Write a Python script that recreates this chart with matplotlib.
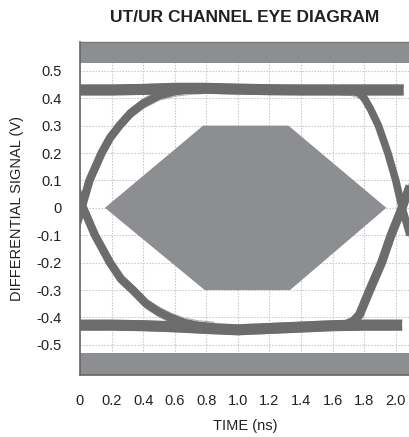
import matplotlib
matplotlib.use("Agg")
import matplotlib.pyplot as plt
from matplotlib.patches import Polygon

# ---- data ----
title = "UT/UR CHANNEL EYE DIAGRAM"
x_label = "TIME (ns)"
y_label = "DIFFERENTIAL SIGNAL (V)"

x_ticks = [0, 0.2, 0.4, 0.6, 0.8, 1.0, 1.2, 1.4, 1.6, 1.8, 2.0]
x_tick_labels = ["0", "0.2", "0.4", "0.6", "0.8", "1.0", "1.2", "1.4", "1.6", "1.8", "2.0"]
y_ticks = [0.5, 0.4, 0.3, 0.2, 0.1, 0, -0.1, -0.2, -0.3, -0.4, -0.5]
y_tick_labels = ["0.5", "0.4", "0.3", "0.2", "0.1", "0", "-0.1", "-0.2", "-0.3", "-0.4", "-0.5"]

# eye mask (hexagon) vertices
mask_t = [0.158, 0.78, 1.32, 1.94, 1.33, 0.79]
mask_v = [0.0, 0.3, 0.3, 0.0, -0.3, -0.3]

# keep-out bands
band_top = (0.53, 0.61)
band_bottom = (-0.61, -0.53)

# traces
top_rail_t = [-0.05, 0.2, 0.4, 0.6, 0.8, 1.0, 1.2, 1.4, 1.6, 1.8, 2.05]
top_rail_v = [0.43, 0.43, 0.432, 0.436, 0.436, 0.433, 0.431, 0.43, 0.43, 0.43, 0.43]
bot_rail_t = [-0.05, 0.2, 0.4, 0.6, 0.8, 1.0, 1.2, 1.4, 1.6, 1.8, 2.04]
bot_rail_v = [-0.428, -0.428, -0.43, -0.434, -0.44, -0.445, -0.44, -0.435, -0.43, -0.428, -0.428]

left_rise_t = [-0.08, -0.03, 0.01, 0.06, 0.137, 0.19, 0.25, 0.32, 0.40, 0.50, 0.60, 0.70, 0.80]
left_rise_v = [-0.20, -0.08, 0.0, 0.10, 0.20, 0.255, 0.30, 0.345, 0.38, 0.41, 0.425, 0.432, 0.435]
left_fall_t = [-0.08, -0.03, 0.02, 0.095, 0.19, 0.26, 0.335, 0.42, 0.50, 0.57, 0.66, 0.75, 0.85]
left_fall_v = [0.20, 0.08, 0.0, -0.10, -0.20, -0.26, -0.30, -0.35, -0.38, -0.40, -0.42, -0.43, -0.435]

right_fall_t = [1.65, 1.72, 1.77, 1.80, 1.84, 1.89, 1.95, 2.00, 2.04, 2.09]
right_fall_v = [0.43, 0.428, 0.418, 0.40, 0.36, 0.30, 0.20, 0.10, 0.0, -0.10]
right_rise_t = [1.62, 1.68, 1.73, 1.77, 1.835, 1.91, 1.97, 2.04, 2.09]
right_rise_v = [-0.43, -0.428, -0.415, -0.39, -0.30, -0.20, -0.10, 0.0, 0.08]

# small vertical spreads of individual traces around each bundle
trace_offsets = [-0.018, -0.01, 0.01, 0.018]

# ---- figure ----
plt.rcParams['font.family'] = ['Liberation Sans Narrow', 'Liberation Sans', 'DejaVu Sans']
fig = plt.figure(figsize=(4.10, 4.37), dpi=100)
ax = fig.add_axes([80/410, 1-374.5/437, 1-80/410, (374.5-42)/437])

ax.set_xlim(0, 2.09)
ax.set_ylim(-0.608, 0.605)

mask_col = '#8d8e91'
trace_col = '#6c6c6c'
fuzz_col = '#8a8a8a'

ax.axhspan(*band_top, color=mask_col, lw=0, zorder=1)
ax.axhspan(*band_bottom, color=mask_col, lw=0, zorder=1)
ax.add_patch(Polygon(list(zip(mask_t, mask_v)), closed=True, facecolor=mask_col,
                     edgecolor='none', zorder=2))

bundles = [(top_rail_t, top_rail_v, 8), (bot_rail_t, bot_rail_v, 8),
           (left_rise_t, left_rise_v, 6), (left_fall_t, left_fall_v, 6),
           (right_fall_t, right_fall_v, 5.5), (right_rise_t, right_rise_v, 6.5)]
for t, v, lw in bundles:
    ax.plot(t, v, color=trace_col, lw=lw, solid_capstyle='butt',
            solid_joinstyle='round', zorder=3)
    for off in trace_offsets:
        ax.plot(t, [y + off for y in v], color=fuzz_col, lw=0.7,
                solid_joinstyle='round', zorder=2.9, alpha=0.7)

ax.set_xticks(x_ticks)
ax.set_xticklabels(x_tick_labels, fontsize=10.5)
ax.set_yticks(y_ticks)
ax.set_yticklabels(y_tick_labels, fontsize=10.5)
ax.tick_params(length=0, pad=13, colors='#222222')
ax.tick_params(axis='x', pad=14)

ax.grid(True, color='#c0c0c0', ls=(0, (1.2, 1.5)), lw=0.8, zorder=0)
ax.set_axisbelow(True)

ax.spines['right'].set_visible(False)
ax.spines['top'].set_color('#7a7a7a')
ax.spines['top'].set_linewidth(1.0)
for s in ['left', 'bottom']:
    ax.spines[s].set_color('#666666')
    ax.spines[s].set_linewidth(1.2)

ax.set_xlabel(x_label, fontsize=10.5, color='#222222', labelpad=8)
ax.set_ylabel(y_label, fontsize=10.5, color='#222222', labelpad=9)
fig.text(245/410, 1-18/437, title, ha='center', va='center', fontsize=12.5,
         fontweight='bold', color='#222222')

fig.savefig('out.png', dpi=100)
